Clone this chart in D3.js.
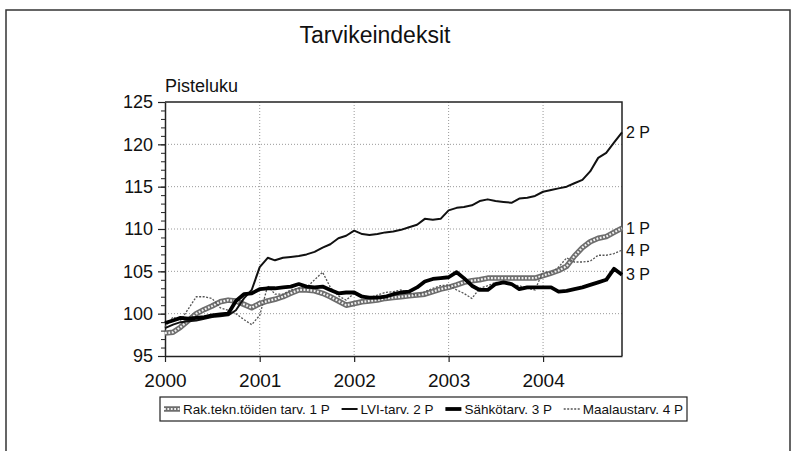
<!DOCTYPE html>
<html>
<head>
<meta charset="utf-8">
<script src="https://cdn.jsdelivr.net/npm/d3@7"></script>
<style>
  body { margin: 0; background: #fff; }
  svg { display: block; font-family: Arial, "Liberation Sans", sans-serif; }
</style>
</head>
<body>
<svg id="chart" width="799" height="451"></svg>
<script>
// Monthly index points, Jan 2000 .. Nov 2004
const startMonth = new Date(2000, 0, 1);
const monthCount = 59;

const rakTarv = [97.7, 97.8, 98.4, 99.2, 100.0, 100.5, 100.9, 101.4, 101.6, 101.5, 101.1, 100.7,
  101.2, 101.5, 101.7, 102.0, 102.4, 102.8, 102.8, 102.7, 102.4, 102.0, 101.5, 101.0,
  101.2, 101.4, 101.5, 101.6, 101.8, 101.9, 102.0, 102.1, 102.2, 102.3, 102.6, 102.9,
  103.1, 103.4, 103.7, 103.9, 104.0, 104.2, 104.2, 104.2, 104.2, 104.2, 104.2, 104.2,
  104.5, 104.8, 105.1, 105.6, 106.8, 107.8, 108.5, 108.9, 109.1, 109.6, 110.1];

const lviTarv = [98.3, 98.7, 99.0, 99.1, 99.2, 99.4, 99.6, 99.7, 99.8, 100.4, 101.8, 102.8,
  105.5, 106.6, 106.3, 106.6, 106.7, 106.8, 107.0, 107.3, 107.8, 108.2, 108.9, 109.2,
  109.8, 109.4, 109.3, 109.4, 109.6, 109.7, 109.9, 110.2, 110.5, 111.2, 111.1, 111.2,
  112.2, 112.5, 112.6, 112.8, 113.3, 113.5, 113.3, 113.2, 113.1, 113.6, 113.7, 113.9,
  114.4, 114.6, 114.8, 115.0, 115.4, 115.8, 116.8, 118.4, 119.0, 120.2, 121.4];

const sahkoTarv = [98.9, 99.2, 99.5, 99.4, 99.5, 99.6, 99.8, 99.9, 100.0, 101.5, 102.3, 102.4,
  102.9, 103.0, 103.0, 103.1, 103.2, 103.5, 103.2, 103.1, 103.2, 102.8, 102.4, 102.5,
  102.5, 102.0, 101.9, 101.9, 102.0, 102.3, 102.5, 102.6, 103.1, 103.8, 104.1, 104.2,
  104.3, 104.9, 104.2, 103.3, 102.8, 102.8, 103.5, 103.7, 103.5, 102.9, 103.1, 103.1,
  103.1, 103.1, 102.6, 102.7, 102.9, 103.1, 103.4, 103.7, 104.0, 105.3, 104.6];

const maalausTarv = [98.4, 99.6, 99.2, 100.6, 102.0, 102.0, 101.8, 100.7, 100.4, 100.0, 99.3, 98.7,
  99.8, 103.3, 102.3, 102.3, 102.8, 103.0, 103.1, 104.0, 104.9, 103.1, 102.1, 101.6,
  102.4, 102.2, 101.9, 102.2, 102.5, 102.6, 102.8, 102.4, 102.2, 102.6, 103.0, 103.3,
  103.4, 102.8, 102.4, 101.8, 103.0, 103.3, 103.7, 103.6, 103.4, 103.3, 103.0, 102.8,
  105.0, 104.8, 105.5, 106.6, 106.1, 106.1, 106.2, 106.9, 106.9, 107.1, 107.5];

const seriesNames = ["Rak.tekn.töiden tarv. 1 P", "LVI-tarv. 2 P", "Sähkötarv. 3 P", "Maalaustarv. 4 P"];
const endLabels = ["1 P", "2 P", "3 P", "4 P"];
const yTicks = [95, 100, 105, 110, 115, 120, 125];

const months = d3.range(monthCount).map(i => d3.timeMonth.offset(startMonth, i));

const series = [
  { name: seriesNames[0], end: endLabels[0], values: rakTarv, style: "hatch" },
  { name: seriesNames[1], end: endLabels[1], values: lviTarv, style: "thin" },
  { name: seriesNames[2], end: endLabels[2], values: sahkoTarv, style: "thick" },
  { name: seriesNames[3], end: endLabels[3], values: maalausTarv, style: "dotted" }
];

const svg = d3.select("#chart");
const plot = { left: 165, right: 622, top: 102, bottom: 356 };

const x = d3.scaleTime()
  .domain([months[0], months[months.length - 1]])
  .range([plot.left, plot.right]);
const y = d3.scaleLinear()
  .domain([95, 125])
  .range([plot.bottom, plot.top]);

// outer frame
svg.append("rect")
  .attr("x", 6).attr("y", 10)
  .attr("width", 784).attr("height", 460)
  .attr("fill", "none")
  .attr("stroke", "#333")
  .attr("stroke-width", 1.5);

// title + unit
svg.append("text")
  .attr("x", 375).attr("y", 43)
  .attr("text-anchor", "middle")
  .attr("font-size", 23)
  .attr("fill", "#111")
  .text("Tarvikeindeksit");
svg.append("text")
  .attr("x", 165).attr("y", 92)
  .attr("font-size", 18)
  .attr("fill", "#111")
  .text("Pisteluku");

// grid
const grid = svg.append("g")
  .attr("stroke", "#999")
  .attr("stroke-width", 1)
  .attr("stroke-dasharray", "1,2");
grid.selectAll("line.h")
  .data(yTicks.slice(1, -1))
  .join("line")
    .attr("x1", plot.left).attr("x2", plot.right)
    .attr("y1", d => y(d)).attr("y2", d => y(d));
grid.selectAll("line.v")
  .data(x.ticks(d3.timeYear.every(1)).slice(1))
  .join("line")
    .attr("x1", d => x(d)).attr("x2", d => x(d))
    .attr("y1", plot.top).attr("y2", plot.bottom);

// plot box top/right
svg.append("path")
  .attr("d", `M${plot.left},${plot.top}H${plot.right}V${plot.bottom}`)
  .attr("fill", "none")
  .attr("stroke", "#222")
  .attr("stroke-width", 1.5);

// y axis: minor ticks then major
svg.append("g")
  .attr("transform", `translate(${plot.left},0)`)
  .call(d3.axisLeft(y).tickValues(d3.range(95, 126, 1)).tickSize(4).tickFormat(""))
  .call(g => g.select(".domain").remove())
  .call(g => g.selectAll("line").attr("stroke", "#222"));
svg.append("g")
  .attr("transform", `translate(${plot.left},0)`)
  .call(d3.axisLeft(y).tickValues(yTicks).tickSize(7).tickPadding(5).tickSizeOuter(0))
  .call(g => g.select(".domain").attr("stroke", "#222").attr("stroke-width", 1.5))
  .call(g => g.selectAll("line").attr("stroke", "#222").attr("stroke-width", 1.2))
  .call(g => g.selectAll("text").attr("font-size", 18).attr("fill", "#111")
    .attr("font-family", "Arial, 'Liberation Sans', sans-serif"));

// x axis
svg.append("g")
  .attr("transform", `translate(0,${plot.bottom})`)
  .call(d3.axisBottom(x).ticks(d3.timeYear.every(1)).tickFormat(d3.timeFormat("%Y"))
    .tickSize(6).tickPadding(12).tickSizeOuter(0))
  .call(g => g.select(".domain").attr("stroke", "#222").attr("stroke-width", 1.5))
  .call(g => g.selectAll("line").attr("stroke", "#222").attr("stroke-width", 1.2))
  .call(g => g.selectAll("text").attr("font-size", 19).attr("fill", "#111")
    .attr("font-family", "Arial, 'Liberation Sans', sans-serif"));

// lines
const line = d3.line()
  .x((d, i) => x(months[i]))
  .y(d => y(d));

function drawStyled(g, style, d) {
  if (style === "hatch") {
    g.append("path").attr("d", d).attr("fill", "none")
      .attr("stroke", "#6e6e6e").attr("stroke-width", 5.5).attr("stroke-linejoin", "round");
    g.append("path").attr("d", d).attr("fill", "none")
      .attr("stroke", "#f2f2f2").attr("stroke-width", 2.2).attr("stroke-dasharray", "1.8,1.6");
  } else if (style === "thin") {
    g.append("path").attr("d", d).attr("fill", "none")
      .attr("stroke", "#111").attr("stroke-width", 2).attr("stroke-linejoin", "round");
  } else if (style === "thick") {
    g.append("path").attr("d", d).attr("fill", "none")
      .attr("stroke", "#000").attr("stroke-width", 3.8).attr("stroke-linejoin", "round");
  } else {
    g.append("path").attr("d", d).attr("fill", "none")
      .attr("stroke", "#555").attr("stroke-width", 1.3).attr("stroke-dasharray", "2,1.5");
  }
}

const drawOrder = [0, 3, 1, 2];
drawOrder.forEach(k => {
  const s = series[k];
  drawStyled(svg.append("g"), s.style, line(s.values));
});

// end labels
svg.append("g")
  .selectAll("text")
  .data(series)
  .join("text")
    .attr("x", plot.right + 4)
    .attr("y", d => y(d.values[d.values.length - 1]))
    .attr("dy", "0.35em")
    .attr("font-size", 16)
    .attr("fill", "#111")
    .text(d => d.end);

// legend: measure the labels, then spread the items across the box
const legend = svg.append("g");
const box = { x0: 160, x1: 687, y: 397, h: 24 };
legend.append("rect")
  .attr("x", box.x0).attr("y", box.y)
  .attr("width", box.x1 - box.x0).attr("height", box.h)
  .attr("fill", "#fff")
  .attr("stroke", "#222")
  .attr("stroke-width", 1.2);
const ly = box.y + box.h / 2;
const texts = series.map(s => legend.append("text")
  .attr("y", ly)
  .attr("dy", "0.35em")
  .attr("font-size", 13.5)
  .attr("fill", "#111")
  .text(s.name));
const widths = texts.map(t => t.node().getComputedTextLength());
const symW = 16, symGap = 3;
const used = d3.sum(widths) + series.length * (symW + symGap);
const gap = (box.x1 - box.x0 - 8 - used) / (series.length - 1);
let lx = box.x0 + 4;
series.forEach((s, i) => {
  drawStyled(legend.append("g"), s.style, `M${lx},${ly}H${lx + symW}`);
  texts[i].attr("x", lx + symW + symGap);
  lx += symW + symGap + widths[i] + gap;
});
</script>
</body>
</html>
